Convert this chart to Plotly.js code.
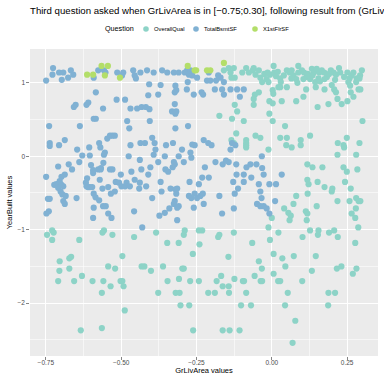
<!DOCTYPE html>
<html>
<head>
<meta charset="utf-8">
<script src="https://cdn.plot.ly/plotly-3.0.1.min.js"></script>
<style>html,body{margin:0;padding:0;background:#fff;}#chart{width:384px;height:375px;}</style>
</head>
<body>
<div id="chart"></div>
<script>
// Series: OverallQual (GrLivArea value, YearBuilt value)
const overallQualX = [
-0.159,-0.143,-0.126,-0.137,-0.134,-0.123,-0.098,-0.085,-0.076,-0.063,-0.054,-0.060,-0.043,-0.038,-0.032,
-0.056,-0.043,-0.060,-0.060,-0.123,-0.115,-0.174,-0.132,-0.093,-0.118,-0.054,-0.134,-0.126,-0.085,-0.085,-0.085,-0.085,-0.038,
0.006,-0.025,-0.014,-0.006,0.008,0.014,-0.017,-0.011,0.028,0.050,0.059,0.066,0.072,0.081,0.088,0.088,0.100,0.107,0.116,0.127,
0.133,0.140,0.149,0.158,0.166,0.174,0.155,0.144,0.183,0.196,0.205,0.213,0.223,0.227,0.199,0.251,0.258,0.254,0.271,0.282,0.293,
0.299,0.291,0.260,0.040,0.065,0.120,0.175,0.210,0.240,0.265,0.020,0.135,0.105,0.190,0.280,0.085,0.030,0.160,
0.003,0.005,0.022,0.028,0.050,-0.008,0.003,0.033,0.081,0.105,0.114,0.146,0.175,0.207,0.213,0.218,0.152,0.188,0.232,0.251,
0.262,0.271,0.288,0.294,-0.008,0.003,0.044,0.028,0.050,0.048,0.066,0.096,0.096,0.127,0.219,0.238,0.240,0.249,0.291,0.301,
0.280,0.218,-0.011,
0.118,0.135,0.168,0.238,0.249,0.284,0.118,0.122,0.152,0.175,0.201,0.199,0.243,0.262,0.081,0.072,0.119,0.149,0.218,0.258,
0.280,0.288,0.294,0.279,0.265,0.277,0.041,0.055,0.063,0.059,0.113,0.118,0.116,0.000,-0.011,0.022,-0.006,0.006,0.102,0.127,
0.155,0.153,0.190,0.207,0.219,0.287,0.277,
-0.729,-0.724,-0.746,-0.729,-0.639,-0.557,-0.562,-0.529,-0.457,
-0.384,-0.347,-0.309,-0.289,-0.292,-0.242,-0.231,-0.240,-0.174,-0.178,-0.126,-0.065,-0.262,
-0.704,-0.705,-0.709,-0.672,-0.666,-0.672,-0.656,-0.630,-0.634,-0.595,-0.564,-0.559,-0.564,-0.543,-0.535,-0.520,-0.496,
-0.502,-0.496,-0.492,-0.488,-0.432,-0.423,-0.401,-0.377,-0.361,-0.346,-0.319,-0.306,-0.308,-0.297,-0.292,-0.303,-0.274,
-0.271,-0.261,-0.242,-0.211,-0.189,-0.183,-0.168,-0.163,-0.163,-0.144,-0.143,-0.142,-0.140,-0.124,-0.107,-0.102,-0.096,
-0.092,-0.085,-0.069,-0.057,-0.043,-0.033,-0.037,-0.032,0.006,0.021,0.028,0.035,0.045,0.053,0.044,0.078,0.069,0.073,
0.101,0.133,0.146,0.188,0.210,0.187,0.216,0.231,0.269,0.281
];
const overallQualY = [
1.17,1.20,1.20,1.14,1.07,1.07,1.14,1.20,1.14,1.17,1.11,1.20,1.17,1.07,1.01,
0.84,0.87,0.78,0.70,0.70,0.61,0.55,0.51,0.48,0.31,0.28,0.22,0.18,0.22,0.18,0.15,0.12,0.25,
1.23,1.12,1.14,1.11,1.14,1.09,1.05,1.01,1.06,1.17,1.14,1.17,1.10,1.05,1.23,1.14,1.17,1.14,1.08,1.05,
1.19,1.14,1.19,1.14,1.17,1.14,1.06,1.01,1.08,1.17,1.14,1.11,1.20,1.14,0.97,1.14,1.06,1.01,1.14,1.06,1.10,
1.17,1.06,0.96,1.10,1.06,1.12,1.05,1.04,1.08,1.10,1.15,1.10,1.05,1.12,1.01,1.00,1.01,1.02,
0.90,0.85,0.94,0.94,0.94,0.75,0.72,0.75,0.75,0.81,0.91,0.94,0.91,0.91,0.87,0.78,0.67,0.71,0.71,0.75,
0.87,0.81,0.91,0.91,0.58,0.48,0.41,0.25,0.25,0.15,0.12,0.22,0.15,0.28,0.18,0.15,0.12,0.25,0.18,0.48,
0.02,0.02,0.09,
-0.11,-0.15,-0.15,-0.15,-0.21,-0.18,-0.32,-0.38,-0.35,-0.42,-0.44,-0.48,-0.35,-0.44,-0.54,-0.65,-0.51,-0.68,-0.61,-0.61,
-0.57,-0.61,-0.61,-0.71,-0.78,-0.84,-0.71,-0.77,-0.81,-0.87,-0.75,-0.78,-0.87,-0.84,-0.97,-1.04,-1.14,-1.33,-1.10,-1.01,
-1.01,-1.07,-1.04,-1.01,-1.10,-0.97,-1.18,
-1.01,-1.04,-1.07,-1.14,-1.14,-1.01,-1.04,-1.07,-1.10,
-1.04,-1.18,-1.18,-1.01,-1.07,-1.01,-1.01,-1.20,-1.07,-1.10,-1.04,-1.18,-1.33,
-1.43,-1.56,-1.70,-1.39,-1.37,-1.53,-1.70,-1.63,-2.37,-1.70,-1.86,-1.70,-2.34,-1.50,-1.77,-1.53,-1.36,
-1.70,-1.70,-1.77,-2.10,-1.50,-1.50,-1.56,-1.86,-1.50,-1.70,-1.86,-1.86,-1.67,-1.53,-1.53,-2.03,-2.03,
-1.70,-2.37,-1.70,-1.86,-1.86,-1.70,-1.63,-1.77,-2.37,-1.37,-1.77,-1.86,-2.37,-1.67,-2.37,-2.03,-1.70,
-1.70,-1.86,-2.03,-1.63,-1.43,-1.53,-1.70,-1.70,-1.60,-1.70,-1.70,-1.39,-1.50,-1.86,-2.03,-2.24,-2.54,-1.36,
-1.70,-1.56,-1.36,-1.86,-1.86,-2.03,-1.53,-1.50,-1.60,-1.53
];

// Series: TotalBsmtSF
const totalBsmtSFX = [
-0.726,-0.728,-0.706,-0.692,-0.697,-0.676,-0.667,-0.659,-0.749,-0.576,-0.591,-0.557,-0.552,-0.513,-0.493,-0.497,-0.460,-0.455,
-0.451,-0.436,-0.414,-0.584,-0.515,-0.487,-0.657,-0.651,-0.615,-0.609,-0.591,-0.584,-0.739,-0.637,-0.480,-0.473,-0.469,-0.447,
-0.432,-0.418,-0.410,-0.407,-0.687,-0.737,-0.737,-0.706,-0.646,-0.606,-0.629,-0.604,-0.573,-0.569,-0.554,-0.557,-0.546,-0.537,
-0.529,-0.521,-0.469,-0.436,-0.421,-0.475,-0.560,
-0.392,-0.364,-0.347,-0.325,-0.309,-0.289,-0.281,-0.270,-0.275,-0.264,-0.248,-0.209,-0.215,-0.204,-0.185,-0.178,-0.170,-0.159,
-0.369,-0.320,-0.279,-0.282,-0.322,-0.317,-0.377,-0.259,-0.233,-0.228,-0.189,-0.165,-0.159,-0.137,-0.115,-0.093,-0.106,-0.322,
-0.406,-0.331,-0.320,-0.317,-0.405,-0.320,-0.278,-0.397,-0.389,-0.328,-0.386,-0.351,-0.298,-0.264,-0.256,-0.226,-0.211,-0.200,
-0.270,-0.132,-0.121,-0.137,-0.392,-0.355,-0.309,
-0.325,-0.292,-0.267,-0.377,-0.403,-0.410,-0.417,-0.353,-0.344,-0.329,-0.322,-0.369,-0.366,-0.397,-0.336,-0.320,-0.314,-0.317,
-0.322,-0.325,-0.309,-0.314,-0.340,-0.355,-0.373,-0.314,-0.273,-0.222,-0.231,-0.209,-0.242,-0.256,-0.275,-0.267,-0.248,-0.237,
-0.229,-0.226,-0.259,-0.187,-0.163,-0.152,-0.143,-0.118,-0.174,-0.165,-0.128,-0.123,-0.112,-0.117,-0.093,-0.093,-0.084,-0.071,
-0.051,-0.068,-0.043,-0.038,-0.034,-0.049,-0.038,-0.027,-0.126,-0.032,-0.027,
-0.559,-0.567,-0.438,-0.709,-0.674,-0.663,-0.639,-0.600,-0.593,-0.593,-0.576,-0.568,-0.537,-0.529,-0.749,-0.687,-0.698,-0.704,
-0.715,-0.722,-0.698,-0.709,-0.692,-0.701,-0.695,-0.684,-0.692,-0.687,-0.737,-0.743,-0.740,-0.748,-0.648,-0.613,-0.617,-0.610,
-0.604,-0.596,-0.571,-0.562,-0.543,-0.591,-0.585,-0.573,-0.560,-0.551,-0.591,-0.593,-0.543,-0.532,-0.534,-0.521,-0.518,-0.507,
-0.499,-0.482,-0.487,-0.471,-0.455,-0.438,-0.466,-0.433,-0.440,-0.501,-0.457,-0.430,-0.615,
-0.008,0.014,0.033,-0.017,-0.008,0.011,-0.033
];
const totalBsmtSFY = [
1.20,1.11,1.14,1.14,1.04,1.07,1.17,1.11,1.03,1.17,1.07,1.17,1.14,1.14,1.14,1.10,1.17,1.10,
1.06,1.14,1.17,0.87,0.77,0.77,0.67,0.70,0.70,0.73,0.51,0.51,0.41,0.41,0.48,0.38,0.65,0.65,
0.67,0.67,0.83,0.98,0.22,0.18,0.14,0.15,0.09,0.12,0.01,0.01,0.18,0.12,0.05,0.02,0.24,0.28,
0.28,0.28,0.15,0.18,0.18,0.00,0.65,
1.14,1.17,1.14,1.14,1.14,1.14,1.17,1.17,1.11,1.10,1.07,1.14,1.03,1.03,1.03,1.10,1.07,1.01,
0.97,0.96,1.01,0.91,0.87,0.90,0.84,0.84,0.87,0.84,0.91,0.91,0.84,0.91,0.91,0.91,0.81,0.71,
0.64,0.61,0.58,0.61,0.48,0.38,0.41,0.25,0.18,0.18,0.09,0.15,0.09,0.16,0.15,0.22,0.18,0.15,
0.05,0.18,0.15,0.09,0.02,0.00,0.00,
-0.08,-0.08,-0.02,-0.08,-0.15,-0.25,-0.41,-0.18,-0.21,-0.15,-0.11,-0.35,-0.48,-0.57,-0.44,-0.45,-0.44,-0.51,
-0.61,-0.65,-0.68,-0.70,-0.71,-0.77,-0.81,-0.87,-0.35,-0.15,-0.29,-0.29,-0.38,-0.51,-0.54,-0.57,-0.57,-0.54,
-0.51,-0.65,-0.70,-0.08,-0.11,-0.06,-0.08,-0.11,-0.54,-0.78,-0.35,-0.51,-0.44,-0.25,-0.25,-0.35,-0.15,-0.11,
-0.11,-0.29,-0.38,-0.48,-0.57,-0.65,-0.68,-0.68,-0.71,-0.16,-0.25,
-0.09,-0.16,-0.05,-0.14,-0.11,-0.18,-0.08,-0.12,-0.19,-0.23,-0.18,-0.18,-0.18,-0.18,-0.28,-0.25,-0.28,-0.34,
-0.38,-0.39,-0.39,-0.43,-0.41,-0.48,-0.52,-0.54,-0.61,-0.65,-0.58,-0.58,-0.75,-0.78,-0.57,-0.30,-0.36,-0.42,
-0.42,-0.42,-0.32,-0.44,-0.42,-0.51,-0.56,-0.60,-0.68,-0.68,-0.70,-0.84,-0.78,-0.84,-0.51,-0.48,-0.35,-0.36,
-0.41,-0.36,-0.41,-0.41,-0.32,-0.36,-0.21,-0.18,-0.44,-0.25,-0.75,-0.97,-0.41,
-0.38,-0.38,-0.25,-0.71,-0.78,-0.61,0.00
];

// Series: X1stFlrSF
const x1stFlrSFX = [-0.613,-0.593,-0.565,-0.544,-0.554,-0.504,-0.279,-0.256,-0.251,-0.215,-0.204,-0.159];
const x1stFlrSFY = [1.11,1.11,1.23,1.23,1.10,1.07,1.23,1.17,1.17,1.17,1.17,1.27];

const seriesNames = ['OverallQual', 'TotalBsmtSF', 'X1stFlrSF'];
const seriesColors = ['#8DD3C7', '#80B1D3', '#B3DE69'];
const legendTitle = 'Question';

const titleText = 'Third question asked when GrLivArea is in [\u22120.75;0.30], following result from (GrLivArea, OverallQual)';
const xTitle = 'GrLivArea values';
const yTitle = 'YearBuilt values';

const FONT = 'Liberation Sans, Arial, Helvetica, sans-serif';

const xs = [overallQualX, totalBsmtSFX, x1stFlrSFX];
const ys = [overallQualY, totalBsmtSFY, x1stFlrSFY];
const traces = seriesNames.map((n, i) => ({
  type: 'scatter', mode: 'markers', name: n,
  x: xs[i], y: ys[i],
  marker: {color: seriesColors[i], size: 6.2, line: {width: 0}},
  hoverinfo: 'skip', showlegend: false
}));

// Legend drawn as annotations + circle shapes (ggplot-style compact legend)
const M = {l: 30, r: 6, t: 49, b: 19};
const W = 384, H = 375;
const PW = W - M.l - M.r, PH = H - M.t - M.b;
const px2x = p => (p - M.l) / PW;
const py2y = p => (H - M.b - p) / PH;
const legendRowY = 29;
const legendTitleLeft = 104;
const legendKeyX = [146, 196, 255];
const annotations = [{
  text: legendTitle, xref: 'paper', yref: 'paper', x: px2x(legendTitleLeft), y: py2y(legendRowY),
  xanchor: 'left', yanchor: 'middle', showarrow: false, borderpad: 0,
  font: {family: FONT, size: 7.2, color: '#000000'}
}];
const shapes = [];
seriesNames.forEach((n, i) => {
  shapes.push({type: 'circle', xref: 'paper', yref: 'paper', xsizemode: 'pixel', ysizemode: 'pixel',
    xanchor: px2x(legendKeyX[i]), yanchor: py2y(legendRowY), x0: -2.8, x1: 2.8, y0: -2.8, y1: 2.8,
    fillcolor: seriesColors[i], line: {width: 0}, layer: 'above'});
  annotations.push({text: n, xref: 'paper', yref: 'paper', x: px2x(legendKeyX[i] + 7), y: py2y(legendRowY),
    xanchor: 'left', yanchor: 'middle', showarrow: false, borderpad: 0,
    font: {family: FONT, size: 5.8, color: '#000000'}});
});

const layout = {
  width: W, height: H,
  margin: {l: M.l, r: M.r, t: M.t, b: M.b, pad: 0},
  paper_bgcolor: '#FFFFFF', plot_bgcolor: '#EBEBEB',
  font: {family: FONT, color: '#000000'},
  title: {text: titleText, font: {family: FONT, size: 9.65, color: '#000000'},
    xref: 'paper', x: 0, xanchor: 'left', yref: 'container', y: 1 - 11/375, yanchor: 'middle'},
  showlegend: false,
  annotations: annotations,
  shapes: shapes,
  xaxis: {range: [-0.8025, 0.3525], tickmode: 'linear', tick0: 0, dtick: 0.25, tickformat: '.2f',
    ticks: 'outside', ticklen: 2.7, tickwidth: 0.6, tickcolor: '#333333', ticklabelstandoff: -3,
    tickfont: {family: FONT, size: 6.5, color: '#4D4D4D'},
    showgrid: true, gridcolor: '#FFFFFF', gridwidth: 1.07, zeroline: false, showline: false,
    minor: {tick0: 0, dtick: 0.125, showgrid: true, gridcolor: '#FFFFFF', gridwidth: 0.53, ticks: ''},
    title: {text: xTitle, font: {family: FONT, size: 7.5, color: '#000000'}, standoff: 3},
    automargin: false, fixedrange: true},
  yaxis: {range: [-2.72, 1.46], tickmode: 'linear', tick0: 0, dtick: 1,
    ticks: 'outside', ticklen: 2.7, tickwidth: 0.6, tickcolor: '#333333',
    tickfont: {family: FONT, size: 6.5, color: '#4D4D4D'},
    showgrid: true, gridcolor: '#FFFFFF', gridwidth: 1.07, zeroline: false, showline: false,
    minor: {tick0: 0, dtick: 0.5, showgrid: true, gridcolor: '#FFFFFF', gridwidth: 0.53, ticks: ''},
    title: {text: yTitle, font: {family: FONT, size: 7.5, color: '#000000'}, standoff: 3},
    automargin: false, fixedrange: true}
};

Plotly.newPlot('chart', traces, layout, {staticPlot: true, displayModeBar: false});
</script>
</body>
</html>
